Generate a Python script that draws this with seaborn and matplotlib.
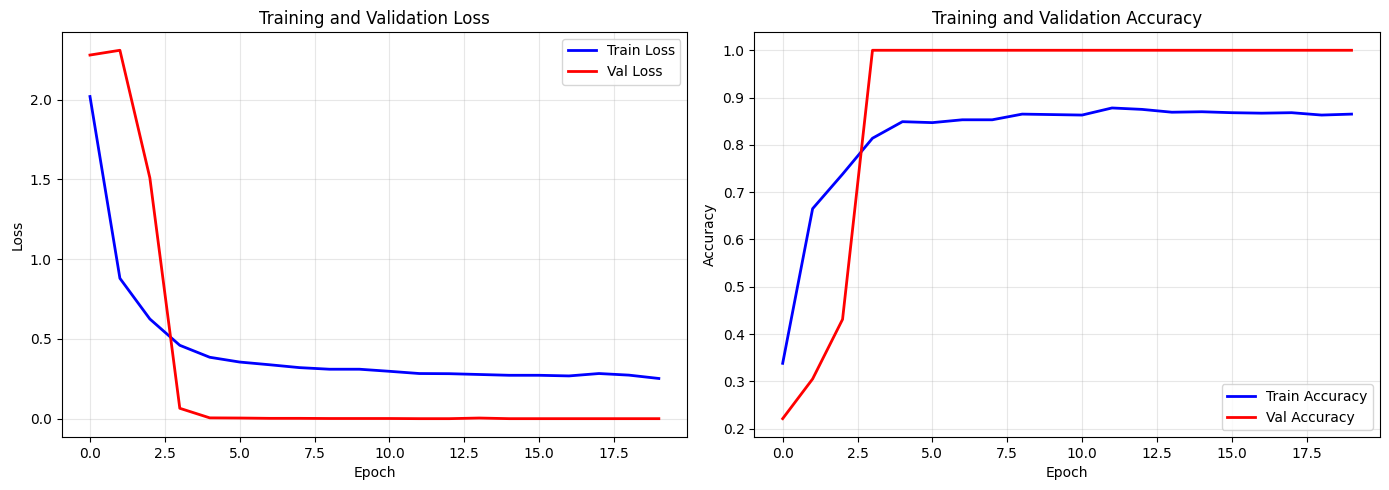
import numpy as np
import pandas as pd
import matplotlib
matplotlib.use('Agg')
import matplotlib.pyplot as plt
import seaborn as sns

epochs = list(range(20))
train_loss = [2.02, 0.88, 0.625, 0.46, 0.385, 0.355, 0.338, 0.32, 0.31, 0.31,
              0.297, 0.283, 0.282, 0.277, 0.272, 0.272, 0.268, 0.283, 0.273, 0.252]
val_loss = [2.28, 2.31, 1.51, 0.065, 0.005, 0.004, 0.002, 0.002, 0.001, 0.001,
            0.001, 0.0, 0.0, 0.004, 0.0, 0.0, 0.0, 0.0, 0.0, 0.0]
train_acc = [0.338, 0.665, 0.738, 0.814, 0.849, 0.847, 0.853, 0.853, 0.865, 0.864,
             0.863, 0.878, 0.875, 0.869, 0.870, 0.868, 0.867, 0.868, 0.863, 0.865]
val_acc = [0.221, 0.305, 0.431, 1.0, 1.0, 1.0, 1.0, 1.0, 1.0, 1.0,
           1.0, 1.0, 1.0, 1.0, 1.0, 1.0, 1.0, 1.0, 1.0, 1.0]

fig, (ax1, ax2) = plt.subplots(1, 2, figsize=(13.89, 4.9), dpi=100)

# Loss
sns.lineplot(x=epochs, y=train_loss, ax=ax1, color='blue', linewidth=2, label='Train Loss')
sns.lineplot(x=epochs, y=val_loss, ax=ax1, color='red', linewidth=2, label='Val Loss')
ax1.set_title('Training and Validation Loss')
ax1.set_xlabel('Epoch')
ax1.set_ylabel('Loss')
ax1.legend(loc='upper right')
ax1.grid(True, alpha=0.3)

# Accuracy
sns.lineplot(x=epochs, y=train_acc, ax=ax2, color='blue', linewidth=2, label='Train Accuracy')
sns.lineplot(x=epochs, y=val_acc, ax=ax2, color='red', linewidth=2, label='Val Accuracy')
ax2.set_title('Training and Validation Accuracy')
ax2.set_xlabel('Epoch')
ax2.set_ylabel('Accuracy')
ax2.legend(loc='lower right')
ax2.grid(True, alpha=0.3)

plt.subplots_adjust(left=0.0443, right=0.9935, top=0.935, bottom=0.108, wspace=0.107)
plt.savefig('out.png', dpi=100)
